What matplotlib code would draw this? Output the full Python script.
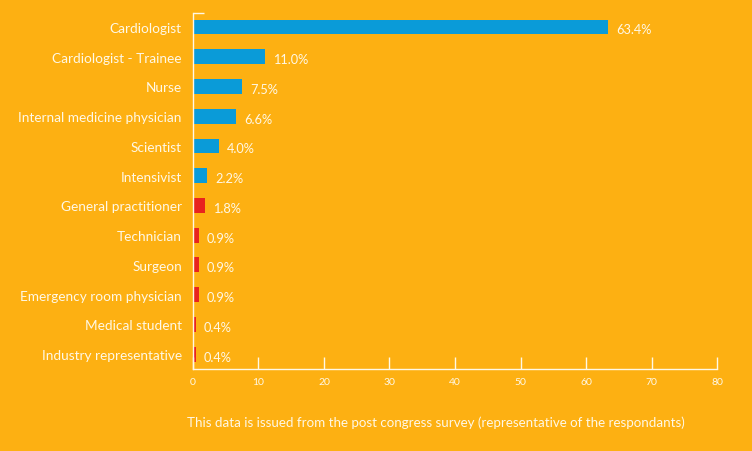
import matplotlib
matplotlib.use("Agg")
import matplotlib.pyplot as plt

# survey respondents by profession (percent)
categories = ["Cardiologist", "Cardiologist - Trainee", "Nurse",
              "Internal medicine physician", "Scientist", "Intensivist",
              "General practitioner", "Technician", "Surgeon",
              "Emergency room physician", "Medical student",
              "Industry representative"]
values = [63.4, 11.0, 7.5, 6.6, 4.0, 2.2, 1.8, 0.9, 0.9, 0.9, 0.4, 0.4]
labels = ["63.4%", "11.0%", "7.5%", "6.6%", "4.0%", "2.2%", "1.8%",
          "0.9%", "0.9%", "0.9%", "0.4%", "0.4%"]
xticks = [0, 10, 20, 30, 40, 50, 60, 70, 80]

bg = "#FDB012"
blue = "#0A9BD8"
red = "#E8231E"
fg = "#FFF8E6"

plt.rcParams["font.family"] = ["Lato", "DejaVu Sans"]

fig = plt.figure(figsize=(7.52, 4.52), dpi=100, facecolor=bg)
ax = fig.add_axes([0.2566, 0.1814, 0.6969, 0.7876], facecolor=bg)

colors = [blue if v >= 2 else red for v in values]
pos = list(range(len(categories)))
ax.barh(pos, values, height=0.5, color=colors)

for p, v, lab in zip(pos, values, labels):
    ax.text(v + 1.2, p + 0.08, lab, color=fg, fontsize=9.2, va="center", ha="left")

ax.set_xlim(0, 80)
ax.set_ylim(11.5, -0.47)
ax.set_yticks(pos)
ax.set_yticklabels(categories, fontsize=9.8, color=fg)
ax.tick_params(axis="y", length=0, pad=8)
ax.set_yticks([-0.47], minor=True)
ax.tick_params(axis="y", which="minor", direction="in", length=8, color=fg, width=1)

ax.set_xticks(xticks)
ax.set_xticklabels([str(t) for t in xticks], fontsize=7.5, color=fg)
ax.tick_params(axis="x", direction="in", length=9, color=fg, width=1, pad=6)

for s in ["top", "right"]:
    ax.spines[s].set_visible(False)
for s in ["left", "bottom"]:
    ax.spines[s].set_color(fg)
    ax.spines[s].set_linewidth(1)

fig.text(0.58, 0.064, "This data is issued from the post congress survey "
         "(representative of the respondants)", color=fg, fontsize=9.6,
         ha="center", va="center")

fig.savefig("out.png", dpi=100, facecolor=bg)
